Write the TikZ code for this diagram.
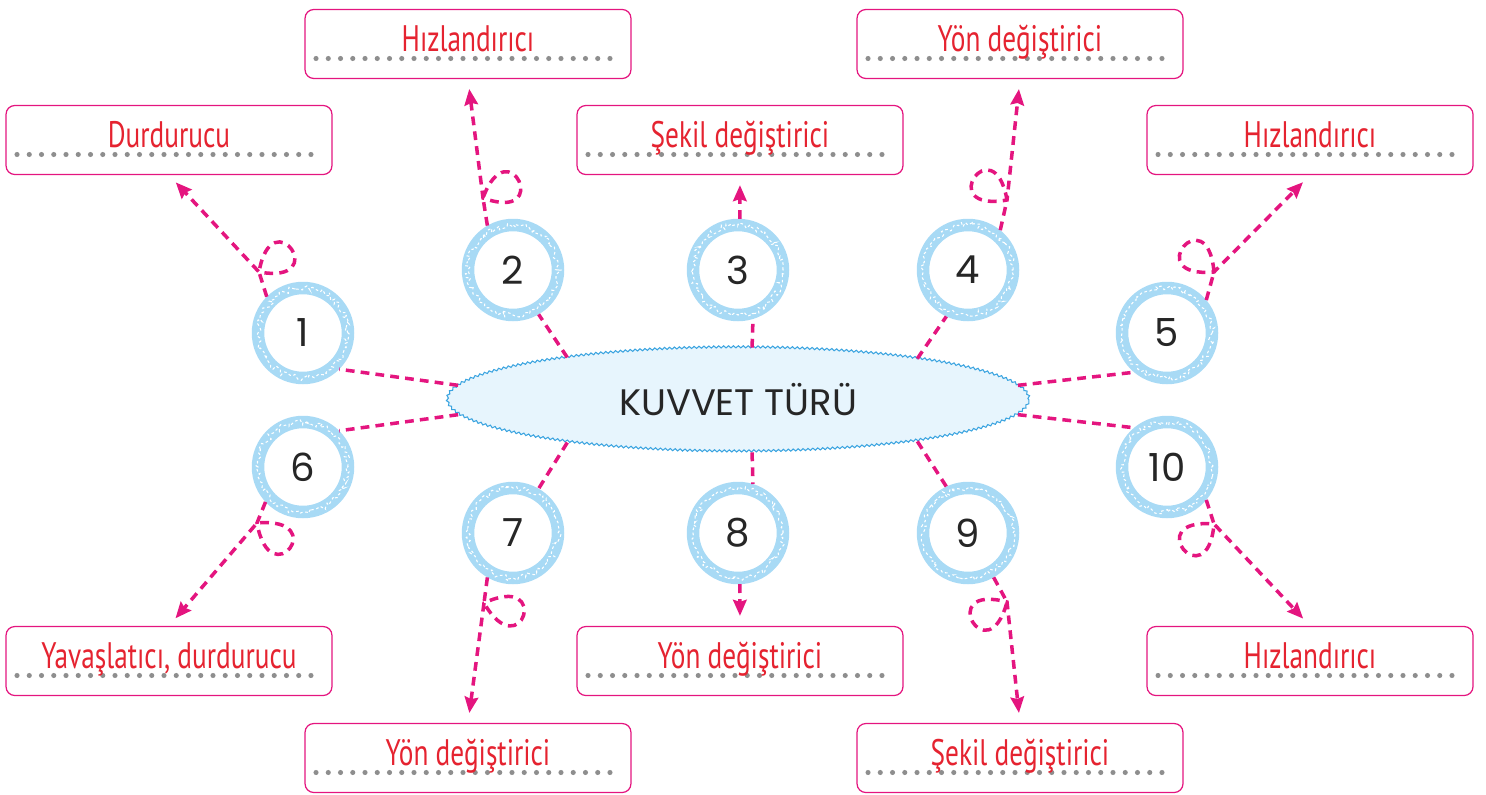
\documentclass[tikz,border=0pt]{standalone}
\usepackage{fontspec}
\setmainfont{Poppins}
\newfontfamily\lblfont[FakeStretch=0.74]{PT Sans}
\usetikzlibrary{shapes.geometric, arrows.meta, decorations.pathmorphing}
\definecolor{lpink}{HTML}{E4157F}
\definecolor{lred}{HTML}{E52330}
\definecolor{dgray}{HTML}{8E8E8E}
\definecolor{rblue}{HTML}{A8DAF5}
\definecolor{eblue}{HTML}{3BA4E0}
\definecolor{efill}{HTML}{E7F5FD}

\begin{document}
\begin{tikzpicture}[x=0.02cm, y=-0.02cm,
    dotrow/.style={dgray, line width=2.9pt, line cap=round, dash pattern=on 0pt off 0.245cm},
    answer/.style={rectangle, draw=lpink, line width=0.7pt, rounded corners=5pt, minimum width=6.52cm, minimum height=1.38cm, inner sep=0pt,
      font=\lblfont\fontsize{21}{21}\selectfont, text=lred, text height=0.62cm, text depth=0.32cm,
      path picture={\draw[dotrow] ([xshift=0.22cm, yshift=0.4cm]path picture bounding box.south west) -- ([xshift=-0.2cm, yshift=0.4cm]path picture bounding box.south east);}},
    ring/.style={circle, draw=rblue, line width=0.25cm, minimum size=1.8cm, inner sep=0pt, font=\fontsize{22}{22}\selectfont, text=black!85,
      postaction={draw=white, line width=0.6pt, dash pattern=on 1.5pt off 1.5pt, decorate, decoration={random steps, segment length=1.5pt, amplitude=1.6pt}}},
    hub/.style={ellipse, draw=eblue, fill=efill, line width=0.6pt, minimum width=11.64cm, minimum height=2.08cm, font=\fontsize{21}{21}\selectfont, text=black!85,
      decorate, decoration={snake, amplitude=0.6pt, segment length=2.8pt}},
    link/.style={lpink, line width=2pt, dash pattern=on 5pt off 3.5pt},
    arr/.style={link, shorten >=0.2cm, -{Stealth[length=0.32cm, width=0.27cm, inset=0.04cm]}},
    lp/.style={min distance=1.5cm},
  ]
    \useasboundingbox (0,0) rectangle (1486,794);

    % answer boxes
    \node[answer] (bA) at (169,140) {Durdurucu};
    \node[answer] (bB) at (468,44) {Hızlandırıcı};
    \node[answer] (bC) at (740,140) {Şekil değiştirici};
    \node[answer] (bD) at (1020,44) {Yön değiştirici};
    \node[answer] (bE) at (1310,140) {Hızlandırıcı};
    \node[answer] (bF) at (169,661) {Yavaşlatıcı, durdurucu};
    \node[answer] (bG) at (468,758) {Yön değiştirici};
    \node[answer] (bH) at (740,661) {Yön değiştirici};
    \node[answer] (bI) at (1020,758) {Şekil değiştirici};
    \node[answer] (bJ) at (1310,661) {Hızlandırıcı};

    % centre and numbered rings
    \node[hub] (ell) at (738,400) {KUVVET TÜRÜ};
    \node[ring] (c1) at (303,333) {1};
    \node[ring] (c2) at (513,270) {2};
    \node[ring] (c3) at (738,270) {3};
    \node[ring] (c4) at (968,270) {4};
    \node[ring] (c5) at (1167,333) {5};
    \node[ring] (c6) at (303,467) {6};
    \node[ring] (c7) at (513,533) {7};
    \node[ring] (c8) at (738,533) {8};
    \node[ring] (c9) at (968,533) {9};
    \node[ring] (c10) at (1167,467) {10};

    \draw[link] (ell.177) -- (c1.-45);
    \draw[link] (ell.166) -- (c2.-60);
    \draw[link] (ell.75) -- (c3.-73);
    \draw[link] (ell.13) -- (c4.-115);
    \draw[link] (ell.3) -- (c5.-130);
    \draw[link] (ell.183) -- (c6.45);
    \draw[link] (ell.194) -- (c7.60);
    \draw[link] (ell.285) -- (c8.73);
    \draw[link] (ell.347) -- (c9.115);
    \draw[link] (ell.357) -- (c10.130);

    % loops on the arrows
    \coordinate (lp1) at (259,272);
    \coordinate (lp2) at (483,198);
    \coordinate (lp4) at (1007,200);
    \coordinate (lp5) at (1214,272);
    \coordinate (lp6) at (257,523);
    \coordinate (lp7) at (484,603);
    \coordinate (lp9) at (1007,602);
    \coordinate (lp10) at (1214,524);

    \draw[arr] (c1.135) -- (lp1) to[out=80, in=-10, lp] (lp1) -- (bA.south);
    \draw[arr] (c2.120) -- (lp2) to[out=70, in=-20, lp] (lp2) -- (bB.south);
    \draw[arr] (c3.88) -- (bC.south);
    \draw[arr] (c4.51) -- (lp4) to[out=100, in=190, lp] (lp4) -- (bD.south);
    \draw[arr] (c5.40) -- (lp5) to[out=95, in=185, lp] (lp5) -- (bE.south);
    \draw[arr] (c6.-137) -- (lp6) to[out=-80, in=5, lp] (lp6) -- (bF.north);
    \draw[arr] (c7.-120) -- (lp7) to[out=-60, in=25, lp] (lp7) -- (bG.north);
    \draw[arr] (c8.-88) -- (bH.north);
    \draw[arr] (c9.-60) -- (lp9) to[out=-105, in=165, lp] (lp9) -- (bI.north);
    \draw[arr] (c10.-40) -- (lp10) to[out=-95, in=175, lp] (lp10) -- (bJ.north);
  \end{tikzpicture}
\end{document}
